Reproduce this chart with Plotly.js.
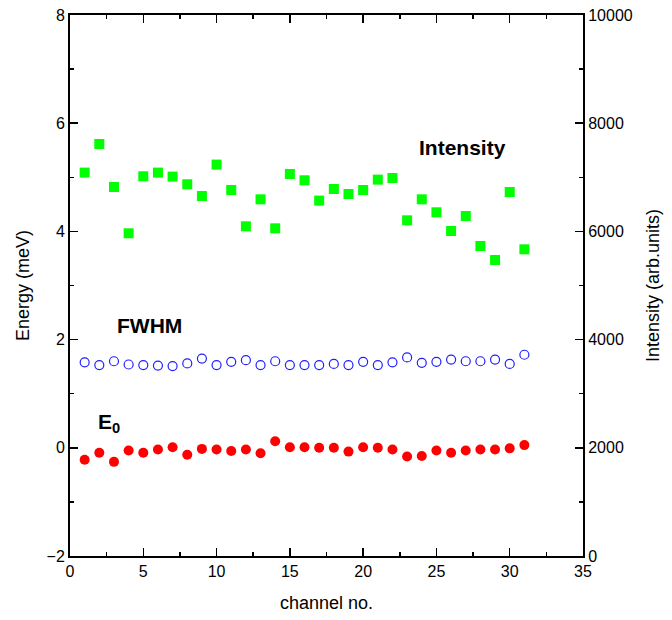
<!DOCTYPE html>
<html>
<head>
<meta charset="utf-8">
<script src="https://cdn.plot.ly/plotly-3.0.1.min.js"></script>
<style>html,body{margin:0;padding:0;background:#fff;}#chart{width:672px;height:620px;}</style>
</head>
<body>
<div id="chart"></div>
<script>
const channels = [1,2,3,4,5,6,7,8,9,10,11,12,13,14,15,16,17,18,19,20,21,22,23,24,25,26,27,28,29,30,31];
const intensity = [7087,7616,6821,5965,7019,7087,7013,6871,6654,7235,6765,6094,6593,6057,7061,6945,6569,6784,6691,6765,6957,6987,6205,6593,6353,6007,6285,5730,5471,6728,5669];
const fwhm = [1.58,1.53,1.60,1.54,1.53,1.52,1.51,1.56,1.65,1.53,1.59,1.62,1.53,1.60,1.53,1.53,1.53,1.55,1.53,1.59,1.53,1.58,1.67,1.57,1.59,1.63,1.60,1.60,1.63,1.55,1.72];
const e0 = [-0.22,-0.09,-0.26,-0.05,-0.09,-0.03,0.01,-0.13,-0.02,-0.03,-0.06,-0.03,-0.10,0.12,0.01,0.01,0.00,0.00,-0.07,0.01,0.00,-0.03,-0.16,-0.15,-0.05,-0.09,-0.05,-0.03,-0.03,-0.01,0.05];

const labels = {intensity: 'Intensity', fwhm: 'FWHM', e0: 'E<sub>0</sub>'};
const FONT = 'Liberation Sans, Arial, sans-serif';

const traces = [
  {x: channels, y: intensity, yaxis: 'y2', type: 'scatter', mode: 'markers', name: 'Intensity',
   marker: {symbol: 'square', size: 10, color: '#00ff00'}},
  {x: channels, y: fwhm, type: 'scatter', mode: 'markers', name: 'FWHM',
   marker: {symbol: 'circle-open', size: 9, color: '#2020ff', line: {width: 1.2, color: '#2020ff'}}},
  {x: channels, y: e0, type: 'scatter', mode: 'markers', name: 'E0',
   marker: {symbol: 'circle', size: 10, color: '#ff0000'}}
];

const axisCommon = {
  showgrid: false, zeroline: false, showline: true, linecolor: '#000', linewidth: 2,
  ticks: 'inside', ticklen: 8, tickwidth: 1.5, tickcolor: '#000',
  tickfont: {family: FONT, size: 16, color: '#000'}
};

const layout = {
  width: 672, height: 620,
  margin: {l: 70, r: 89, t: 15, b: 64},
  paper_bgcolor: '#fff', plot_bgcolor: '#fff',
  showlegend: false,
  font: {family: FONT, color: '#000'},
  xaxis: Object.assign({}, axisCommon, {
    range: [0, 35], dtick: 5, tick0: 0, mirror: 'ticks',
    minor: {ticks: 'inside', ticklen: 4, dtick: 2.5, tickcolor: '#000', tickwidth: 1.5},
    title: {text: 'channel no.', font: {family: FONT, size: 18, color: '#000'}, standoff: 17}
  }),
  yaxis: Object.assign({}, axisCommon, {
    range: [-2, 8], dtick: 2, tick0: -2,
    minor: {ticks: 'inside', ticklen: 4, dtick: 1, tickcolor: '#000', tickwidth: 1.5},
    title: {text: 'Energy (meV)', font: {family: FONT, size: 18, color: '#000'}, standoff: 12}
  }),
  yaxis2: Object.assign({}, axisCommon, {
    overlaying: 'y', side: 'right',
    range: [0, 10000], dtick: 2000, tick0: 0, tickformat: 'd',
    minor: {ticks: 'inside', ticklen: 4, dtick: 1000, tickcolor: '#000', tickwidth: 1.5},
    title: {text: 'Intensity (arb.units)', font: {family: FONT, size: 18, color: '#000'}, standoff: 15}
  }),
  annotations: [
    {x: 26.8, y: 5.56, xref: 'x', yref: 'y', text: '<b>' + labels.intensity + '</b>', showarrow: false,
     font: {family: FONT, size: 21, color: '#000'}},
    {x: 5.4, y: 2.26, xref: 'x', yref: 'y', text: '<b>' + labels.fwhm + '</b>', showarrow: false,
     font: {family: FONT, size: 21, color: '#000'}},
    {x: 2.66, y: 0.45, xref: 'x', yref: 'y', text: '<b>' + labels.e0 + '</b>', showarrow: false,
     font: {family: FONT, size: 21, color: '#000'}}
  ]
};

Plotly.newPlot('chart', traces, layout, {displayModeBar: false, staticPlot: true});
</script>
</body>
</html>
